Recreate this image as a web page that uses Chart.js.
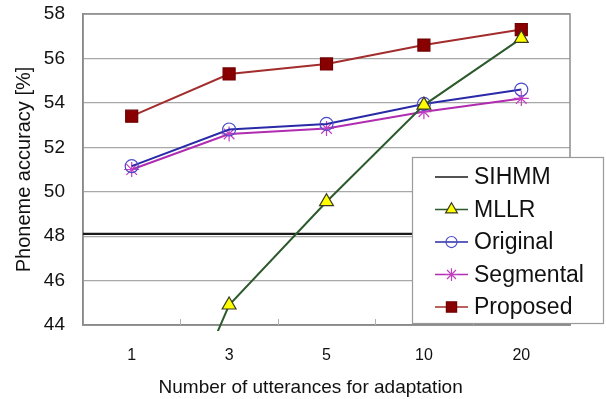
<!DOCTYPE html>
<html>
<head>
<meta charset="utf-8">
<script src="https://cdn.jsdelivr.net/npm/chart.js@4.4.0/dist/chart.umd.min.js"></script>
<style>
    html, body { margin: 0; padding: 0; background: #fff; }
    #wrap { width: 606px; height: 399px; position: relative; }
</style>
</head>
<body>
<div id="wrap"><canvas id="chart"></canvas></div>
<script>
// ============================================
// DATA
// ============================================
const categories = ['1', '3', '5', '10', '20'];
const sihmmValue = 48.1;
const mllrValues = [34.7, 44.9, 49.55, 53.9, 56.9];
const originalValues = [51.15, 52.8, 53.05, 53.95, 54.6];
const segmentalValues = [51.0, 52.6, 52.85, 53.6, 54.2];
const proposedValues = [53.4, 55.3, 55.75, 56.6, 57.3];
const yMin = 44;
const yMax = 58;
const yStep = 2;

const FONT = '"Liberation Sans", Arial, sans-serif';

// SIHMM baseline runs across the whole plot, so it sits on a hidden linear axis
const lineEdges = [-0.5, categories.length - 0.5];
const sihmmPoints = lineEdges.map(x => ({ x: x, y: sihmmValue }));

// Series styles (also used by the legend)
const series = [
    { label: 'SIHMM', line: '#1a1a1a', width: 2, point: false },
    { label: 'MLLR', line: '#2c5a2c', width: 2, point: 'triangle', fill: '#ffff00', border: '#3a3a20', radius: 8 },
    { label: 'Original', line: '#2a2aa8', width: 2, point: 'circle', fill: 'rgba(0,0,0,0)', border: '#4a4ac8', radius: 6.5 },
    { label: 'Segmental', line: '#b02cb0', width: 2, point: 'star', fill: 'rgba(0,0,0,0)', border: '#c040c0', radius: 7.5 },
    { label: 'Proposed', line: '#a32d2d', width: 2, point: 'rect', fill: '#880000', border: '#700000', radius: 8.5 }
];

function lineDataset(s, data, order) {
    return {
        label: s.label,
        data: data,
        borderColor: s.line,
        borderWidth: s.width,
        backgroundColor: s.fill,
        pointStyle: s.point,
        pointRadius: s.radius,
        pointBorderColor: s.border,
        pointBackgroundColor: s.fill,
        pointBorderWidth: 1.2,
        tension: 0,
        order: order
    };
}

// Plot frame + small inward category ticks
const framePlugin = {
    id: 'frame',
    beforeDatasetsDraw(chart) {
        const { ctx, chartArea: a } = chart;
        const xs = chart.scales.x;
        ctx.save();
        ctx.strokeStyle = '#8c8c8c';
        ctx.lineWidth = 1.5;
        ctx.strokeRect(a.left, a.top, a.right - a.left, a.bottom - a.top);
        ctx.strokeStyle = '#b0b0b0';
        ctx.lineWidth = 1;
        for (let i = 1; i < categories.length; i++) {
            const px = (xs.getPixelForValue(i - 1) + xs.getPixelForValue(i)) / 2;
            ctx.beginPath();
            ctx.moveTo(Math.round(px) + 0.5, a.bottom - 6);
            ctx.lineTo(Math.round(px) + 0.5, a.bottom);
            ctx.stroke();
        }
        ctx.restore();
    }
};

// Legend box overlapping the plot, like the original
const legendPlugin = {
    id: 'boxLegend',
    afterDraw(chart) {
        const ctx = chart.ctx;
        const box = { x: 412, y: 157, w: 191, h: 166 };
        const rowH = 32.5;
        ctx.save();
        ctx.fillStyle = '#ffffff';
        ctx.fillRect(box.x, box.y, box.w, box.h);
        ctx.strokeStyle = '#9a9a9a';
        ctx.lineWidth = 1.2;
        ctx.strokeRect(box.x + 0.5, box.y + 0.5, box.w, box.h);

        ctx.font = '23px ' + FONT;
        ctx.textBaseline = 'middle';
        ctx.textAlign = 'left';
        series.forEach((s, i) => {
            const cy = box.y + 20 + i * rowH;
            ctx.strokeStyle = s.line;
            ctx.lineWidth = 1.6;
            ctx.beginPath();
            ctx.moveTo(box.x + 23, cy);
            ctx.lineTo(box.x + 56, cy);
            ctx.stroke();
            if (s.point) {
                ctx.fillStyle = s.fill;
                ctx.strokeStyle = s.border;
                ctx.lineWidth = 1.2;
                Chart.helpers.drawPoint(ctx, {
                    pointStyle: s.point,
                    radius: s.radius * 0.85,
                    rotation: 0,
                    borderWidth: 1.2
                }, box.x + 39.5, cy);
            }
            ctx.fillStyle = '#111';
            ctx.fillText(s.label, box.x + 62, cy + 1);
        });
        ctx.restore();
    }
};

const chart = new Chart(document.getElementById('chart'), {
    type: 'line',
    data: {
        labels: categories,
        datasets: [
            Object.assign(lineDataset(series[0], sihmmPoints, 5), {
                xAxisID: 'xLine', pointRadius: 0, borderWidth: 2.2
            }),
            Object.assign(lineDataset(series[1], mllrValues, 1), {
                clip: { left: 0, top: 0, right: 0, bottom: 6 }
            }),
            lineDataset(series[2], originalValues, 3),
            lineDataset(series[3], segmentalValues, 4),
            lineDataset(series[4], proposedValues, 2)
        ]
    },
    options: {
        responsive: true,
        maintainAspectRatio: false,
        animation: false,
        layout: { padding: { left: 0, top: 14, right: 36, bottom: 0 } },
        plugins: {
            legend: { display: false },
            tooltip: { enabled: false }
        },
        scales: {
            x: {
                type: 'category',
                offset: true,
                grid: { display: false, drawTicks: false },
                border: { color: '#808080', width: 1.5 },
                ticks: {
                    color: '#111',
                    font: { family: FONT, size: 16 },
                    padding: 21,
                    maxRotation: 0
                },
                title: {
                    display: true,
                    // trailing spaces nudge the centred title left, as in the original
                    text: 'Number of utterances for adaptation      ',
                    color: '#111',
                    font: { family: FONT, size: 19 },
                    padding: { top: 0, bottom: 0 }
                },
                afterFit(scale) {
                    scale.height = 74;
                    scale.paddingLeft = 0;
                    scale.paddingRight = 0;
                }
            },
            xLine: {
                type: 'linear',
                display: false,
                min: lineEdges[0],
                max: lineEdges[1]
            },
            y: {
                min: yMin,
                max: yMax,
                grid: { color: '#a8a8a8', lineWidth: 1.2, drawTicks: false },
                border: { color: '#808080', width: 1.5 },
                ticks: {
                    stepSize: yStep,
                    color: '#111',
                    font: { family: FONT, size: 19 },
                    padding: 18
                },
                title: {
                    display: true,
                    text: 'Phoneme accuracy [%]',
                    color: '#111',
                    font: { family: FONT, size: 20 },
                    padding: { top: 12, bottom: 0 }
                },
                afterFit(scale) {
                    scale.width = 83;
                    scale.paddingTop = 0;
                    scale.paddingBottom = 0;
                }
            }
        }
    },
    plugins: [framePlugin, legendPlugin]
});
</script>
</body>
</html>
